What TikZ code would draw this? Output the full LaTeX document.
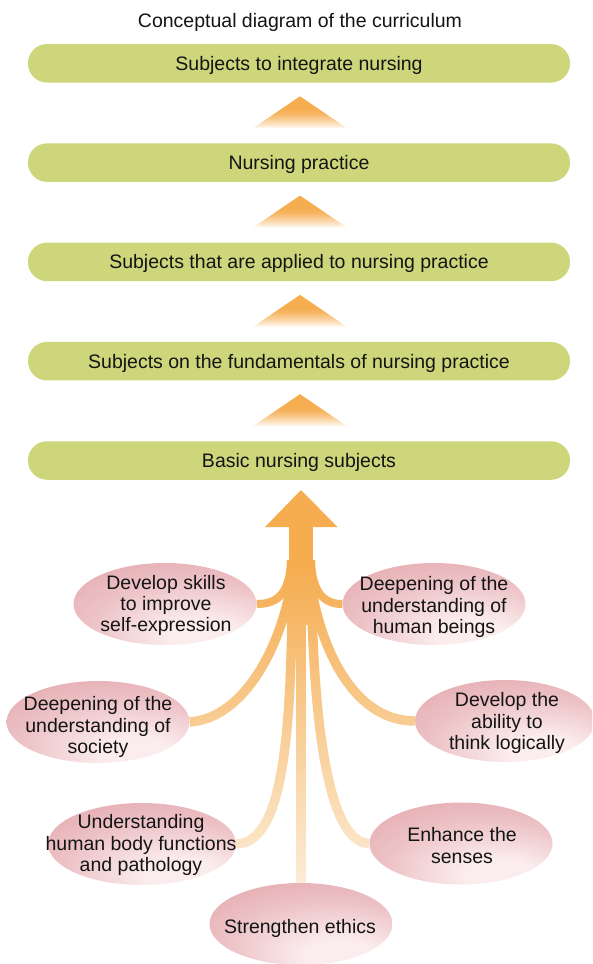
\documentclass[tikz,border=0pt]{standalone}
\usepackage{fontspec}
\setmainfont{Liberation Sans}
\usetikzlibrary{shapes.geometric,fadings,calc}

\definecolor{barG}{RGB}{205,214,122}
\definecolor{orng}{RGB}{245,173,80}
\definecolor{ellDark}{RGB}{222,153,159}
\definecolor{ellLight}{RGB}{251,236,237}
\definecolor{txt}{RGB}{20,20,20}

\pgfdeclareradialshading{ellshade}{\pgfpoint{12bp}{-22bp}}{%
  color(0bp)=(ellLight); color(10bp)=(ellLight);
  color(28bp)=(ellLight!50!ellDark); color(45bp)=(ellLight!18!ellDark);
  color(60bp)=(ellDark); color(80bp)=(ellDark)}
\pgfdeclareverticalshading{trishade}{100bp}{%
  color(0bp)=(white); color(25bp)=(orng!6!white); color(36bp)=(orng!50!white);
  color(48bp)=(orng!90!white); color(56bp)=(orng); color(100bp)=(orng)}
\tikzfading[name=fadedown, top color=transparent!100, bottom color=transparent!0]

\newcommand\myfs{\fontsize{19.5}{21.3}\selectfont}
\pgfdeclarelayer{bg}
\pgfsetlayers{bg,main}

\begin{document}
\begin{tikzpicture}[x=1pt,y=-1pt,
  lbl/.style={font=\myfs, text=txt, inner sep=0pt, text depth=0pt, align=center},
  bar/.style={fill=barG, rounded corners=19pt, minimum width=542pt,
    minimum height=38.5pt, inner sep=0pt, font=\myfs, text=txt, text depth=0pt},
  ellshape/.style={ellipse, shade, shading=ellshade, minimum width=183pt,
    minimum height=82pt, inner sep=0pt},
  strand/.style={draw=orng, line width=9.5pt},
  thinstrand/.style={draw=orng, line width=8pt}]
\useasboundingbox (0,0) rectangle (592,964);
\clip (0,0) rectangle (592,964);

\node[lbl] (title) at (300,20.5) {Conceptual diagram of the curriculum};

\node[bar] (b1) at (299,63.3)  {Subjects to integrate nursing};
\node[bar] (b2) at (299,162.6) {Nursing practice};
\node[bar] (b3) at (299,261.9) {Subjects that are applied to nursing practice};
\node[bar] (b4) at (299,361.2) {Subjects on the fundamentals of nursing practice};
\node[bar] (b5) at (299,460.5) {Basic nursing subjects};

\foreach \i in {1,2,3,4}{
  \shade[shading=trishade] ($(b\i.south)+(1,13.5)$) -- ++(47,32) -- ++(-94,0) -- cycle;
}

% ellipses
\node[ellshape] (e1) at (165,604) {};
\node[ellshape] (e2) at (434,604) {};
\node[ellshape] (e3) at (98,722) {};
\node[ellshape, minimum width=180pt] (e4) at (505,721) {};
\node[ellshape, minimum width=188pt] (e5) at (142,844) {};
\node[ellshape] (e6) at (461,843.5) {};
\node[ellshape] (e7) at (301,924) {};

\node[lbl] (e1t) at (166,603.5) {Develop skills\\to improve\\self-expression};
\node[lbl] (e2t) at (434,605) {Deepening of the\\understanding of\\human beings};
\node[lbl] (e3t) at (98,725) {Deepening of the\\understanding of\\society};
\node[lbl] (e4t) at (507,721) {Develop the\\ability to\\think logically};
\node[lbl] (e5t) at (141,843) {Understanding\\human body functions\\and pathology};
\node[lbl] (e6t) at (462,845.5) {Enhance the\\senses};
\node[lbl] (e7t) at (300,926) {Strengthen ethics};

% trunk and strands
\coordinate (tip) at (301,490);
\coordinate (hl) at (265,527);
\coordinate (hr) at (337.5,527);
\coordinate (tc) at (301,520);
\coordinate (tul) at (291,560);
\coordinate (tur) at (311,560);
\coordinate (tsl) at (291,585);
\coordinate (tsr) at (311,585);
\coordinate (tbl) at (292,615);
\coordinate (tbr) at (312,615);

\begin{pgfonlayer}{bg}
  \fill[orng] (hl) -- (tip) -- (hr) -- cycle;
  \fill[orng] (289,526) rectangle (313,625);
  \draw[strand, line width=10pt] (tc) -- (e7.north);
  \draw[thinstrand] (tul) .. controls (290,594) and (277,604) .. (e1.east);
  \draw[thinstrand] (tur) .. controls (312,594) and (325,604) .. (e2.west);
  \draw[strand] (tsl) .. controls (281,645) and (245,718) .. (e3.east);
  \draw[strand] (tsr) .. controls (320,645) and (352,721) .. (e4.west);
  \draw[strand] (tbl) .. controls (290,760) and (278,843) .. (e5.east);
  \draw[strand] (tbr) .. controls (316,745) and (332,843) .. (e6.west);
  \fill[white, path fading=fadedown, fill opacity=0.8] (150,565) rectangle (450,895);
\end{pgfonlayer}
\end{tikzpicture}
\end{document}
